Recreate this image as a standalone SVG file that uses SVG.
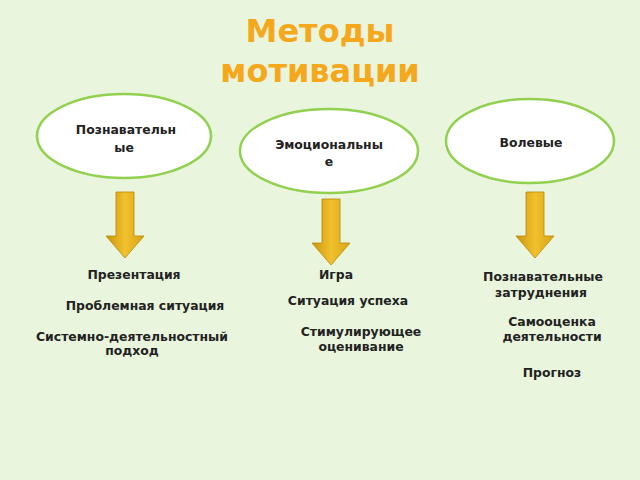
<svg xmlns="http://www.w3.org/2000/svg" width="640" height="480" viewBox="0 0 640 480">
<defs>
<linearGradient id="g" x1="0" x2="1" y1="0" y2="0"><stop offset="0" stop-color="#c9960a"/><stop offset="0.5" stop-color="#f2c12e"/><stop offset="1" stop-color="#d9a514"/></linearGradient>
<path id="arr" d="M-9,0 H9 V44 H19 L0,66 L-19,44 H-9 Z" fill="url(#g)" stroke="#b8890a" stroke-width="0.8"/>
</defs>
<style>
.e{fill:#fff;stroke:#92d050;stroke-width:2.5}
.t{font-family:"DejaVu Sans",sans-serif;font-size:12.4px;font-weight:bold;fill:#222;text-anchor:middle}
</style>
<rect width="640" height="480" fill="#e9f5dc"/>
<text x="320" y="42" font-family="DejaVu Sans,sans-serif" font-size="32" font-weight="bold" fill="#f5a81c" text-anchor="middle">Методы</text>
<text x="320" y="82" font-family="DejaVu Sans,sans-serif" font-size="32" font-weight="bold" fill="#f5a81c" text-anchor="middle">мотивации</text>
<g id="n1"><ellipse class="e" cx="124" cy="136" rx="87" ry="42"/><text class="t" x="126" y="134">Познавательн</text><text class="t" x="124" y="152">ые</text></g>
<g id="n2"><ellipse class="e" cx="329" cy="151" rx="89" ry="42"/><text class="t" x="329" y="149">Эмоциональны</text><text class="t" x="329" y="166">е</text></g>
<g id="n3"><ellipse class="e" cx="530" cy="141" rx="84" ry="42"/><text class="t" x="531" y="147">Волевые</text></g>
<g id="connectors">
<use href="#arr" x="125" y="192"/>
<use href="#arr" x="331" y="199"/>
<use href="#arr" x="535" y="192"/>
</g>
<g id="l1"><text class="t" x="134" y="279">Презентация</text><text class="t" x="145" y="310">Проблемная ситуация</text><text class="t" x="132" y="341">Системно-деятельностный</text><text class="t" x="132" y="355">подход</text></g>
<g id="l2"><text class="t" x="336" y="279">Игра</text><text class="t" x="348" y="305">Ситуация успеха</text><text class="t" x="361" y="336">Стимулирующее</text><text class="t" x="361" y="351">оценивание</text></g>
<g id="l3"><text class="t" x="543" y="281">Познавательные</text><text class="t" x="541" y="297">затруднения</text><text class="t" x="552" y="326">Самооценка</text><text class="t" x="552" y="341">деятельности</text><text class="t" x="552" y="377">Прогноз</text></g>
</svg>
